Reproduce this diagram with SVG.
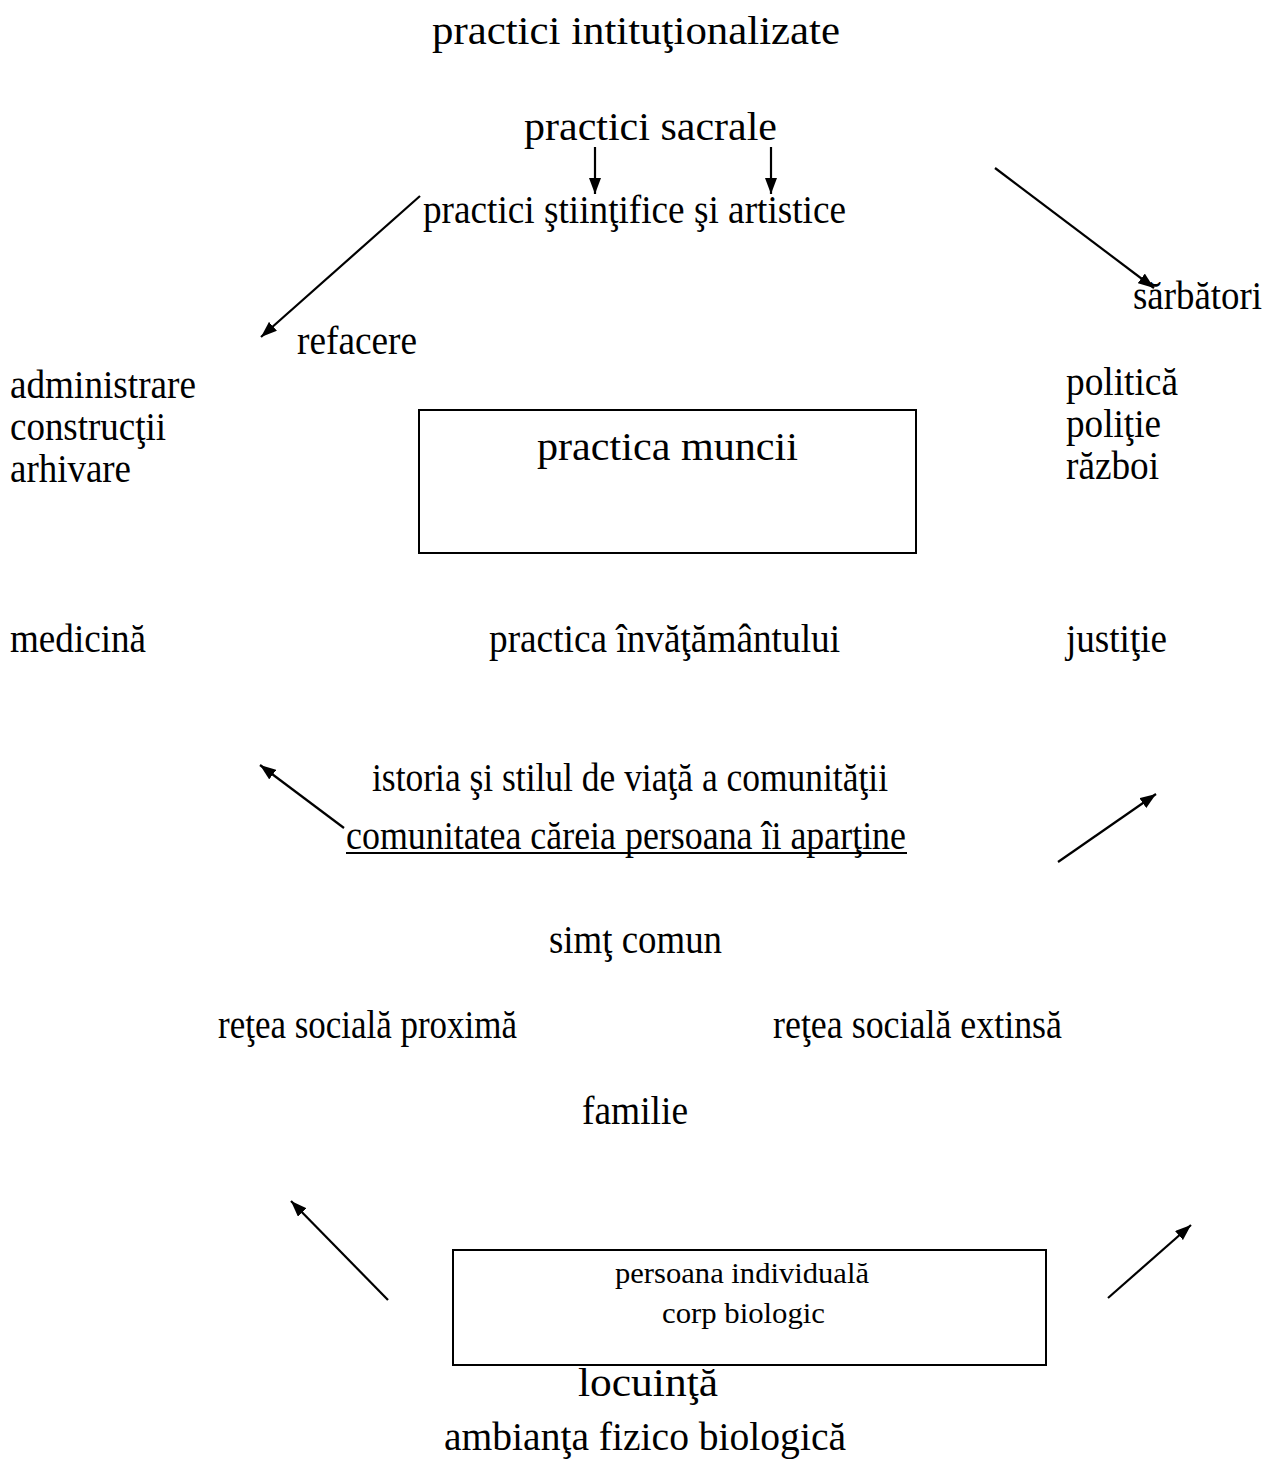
<svg xmlns="http://www.w3.org/2000/svg" width="1277" height="1480" viewBox="0 0 1277 1480">
<style>
text{font-family:"Liberation Serif","Times New Roman",serif;fill:#000}
.l{font-size:41px}
.s{font-size:30px}
.c{text-anchor:middle}
.box{fill:none;stroke:#000;stroke-width:2}
.ar{stroke:#000;stroke-width:2.2;fill:none;marker-end:url(#ah)}
</style>
<defs>
<marker id="ah" viewBox="0 0 16 12" refX="16" refY="6" markerWidth="16" markerHeight="12" markerUnits="userSpaceOnUse" orient="auto">
<path d="M0,0 L16,6 L0,12 z" fill="#000"/>
</marker>
</defs>
<rect width="1277" height="1480" fill="#fff"/>
<g id="title"><text class="l" x="432" y="44" textLength="408" lengthAdjust="spacingAndGlyphs">practici intituţionalizate</text></g>
<g id="sacrale"><text class="l" x="524" y="140" textLength="253" lengthAdjust="spacingAndGlyphs">practici sacrale</text></g>
<g id="stiintifice"><text class="l" x="423" y="223" textLength="423" lengthAdjust="spacingAndGlyphs">practici ştiinţifice şi artistice</text></g>
<g id="refacere"><text class="l" x="297" y="354" textLength="120" lengthAdjust="spacingAndGlyphs">refacere</text></g>
<g id="sarbatori"><text class="l" x="1133" y="309" textLength="129" lengthAdjust="spacingAndGlyphs">sărbători</text></g>
<g id="admin"><text class="l" x="10" y="398" textLength="186" lengthAdjust="spacingAndGlyphs">administrare</text><text class="l" x="10" y="440" textLength="156" lengthAdjust="spacingAndGlyphs">construcţii</text><text class="l" x="10" y="482" textLength="121" lengthAdjust="spacingAndGlyphs">arhivare</text></g>
<g id="politica"><text class="l" x="1066" y="395" textLength="112" lengthAdjust="spacingAndGlyphs">politică</text><text class="l" x="1066" y="437" textLength="95" lengthAdjust="spacingAndGlyphs">poliţie</text><text class="l" x="1066" y="479" textLength="93" lengthAdjust="spacingAndGlyphs">război</text></g>
<g id="muncii"><rect class="box" x="419" y="410" width="497" height="143"/><text class="l" x="537" y="460" textLength="261" lengthAdjust="spacingAndGlyphs">practica muncii</text></g>
<g id="medicina"><text class="l" x="10" y="652" textLength="136" lengthAdjust="spacingAndGlyphs">medicină</text></g>
<g id="invatamant"><text class="l" x="489" y="652" textLength="351" lengthAdjust="spacingAndGlyphs">practica învăţământului</text></g>
<g id="justitie"><text class="l" x="1066" y="652" textLength="101" lengthAdjust="spacingAndGlyphs">justiţie</text></g>
<g id="istoria"><text class="l" x="372" y="791" textLength="516" lengthAdjust="spacingAndGlyphs">istoria şi stilul de viaţă a comunităţii</text></g>
<g id="comunitatea"><text class="l" x="346" y="849" textLength="560" lengthAdjust="spacingAndGlyphs">comunitatea căreia persoana îi aparţine</text><line x1="346" y1="853" x2="907" y2="853" stroke="#000" stroke-width="2"/></g>
<g id="simt"><text class="l" x="549" y="953" textLength="173" lengthAdjust="spacingAndGlyphs">simţ comun</text></g>
<g id="proxima"><text class="l" x="218" y="1038" textLength="299" lengthAdjust="spacingAndGlyphs">reţea socială proximă</text></g>
<g id="extinsa"><text class="l" x="773" y="1038" textLength="289" lengthAdjust="spacingAndGlyphs">reţea socială extinsă</text></g>
<g id="familie"><text class="l" x="582" y="1124" textLength="106" lengthAdjust="spacingAndGlyphs">familie</text></g>
<g id="persoana"><rect class="box" x="453" y="1250" width="593" height="115"/><text class="s" x="615" y="1283" textLength="254" lengthAdjust="spacingAndGlyphs">persoana individuală</text><text class="s" x="662" y="1323" textLength="163" lengthAdjust="spacingAndGlyphs">corp biologic</text></g>
<g id="locuinta"><text class="l" x="578" y="1396" textLength="140" lengthAdjust="spacingAndGlyphs">locuinţă</text></g>
<g id="ambianta"><text class="l" x="444" y="1450" textLength="402" lengthAdjust="spacingAndGlyphs">ambianţa fizico biologică</text></g>
<g id="connectors">
<line class="ar" x1="595" y1="147" x2="595" y2="194"/>
<line class="ar" x1="771" y1="147" x2="771" y2="194"/>
<line class="ar" x1="420" y1="196" x2="261" y2="337"/>
<line class="ar" x1="995" y1="168" x2="1154" y2="288"/>
<line class="ar" x1="344" y1="828" x2="260" y2="765"/>
<line class="ar" x1="1058" y1="862" x2="1156" y2="794"/>
<line class="ar" x1="388" y1="1300" x2="291" y2="1201"/>
<line class="ar" x1="1108" y1="1298" x2="1191" y2="1225"/>
</g>
</svg>
